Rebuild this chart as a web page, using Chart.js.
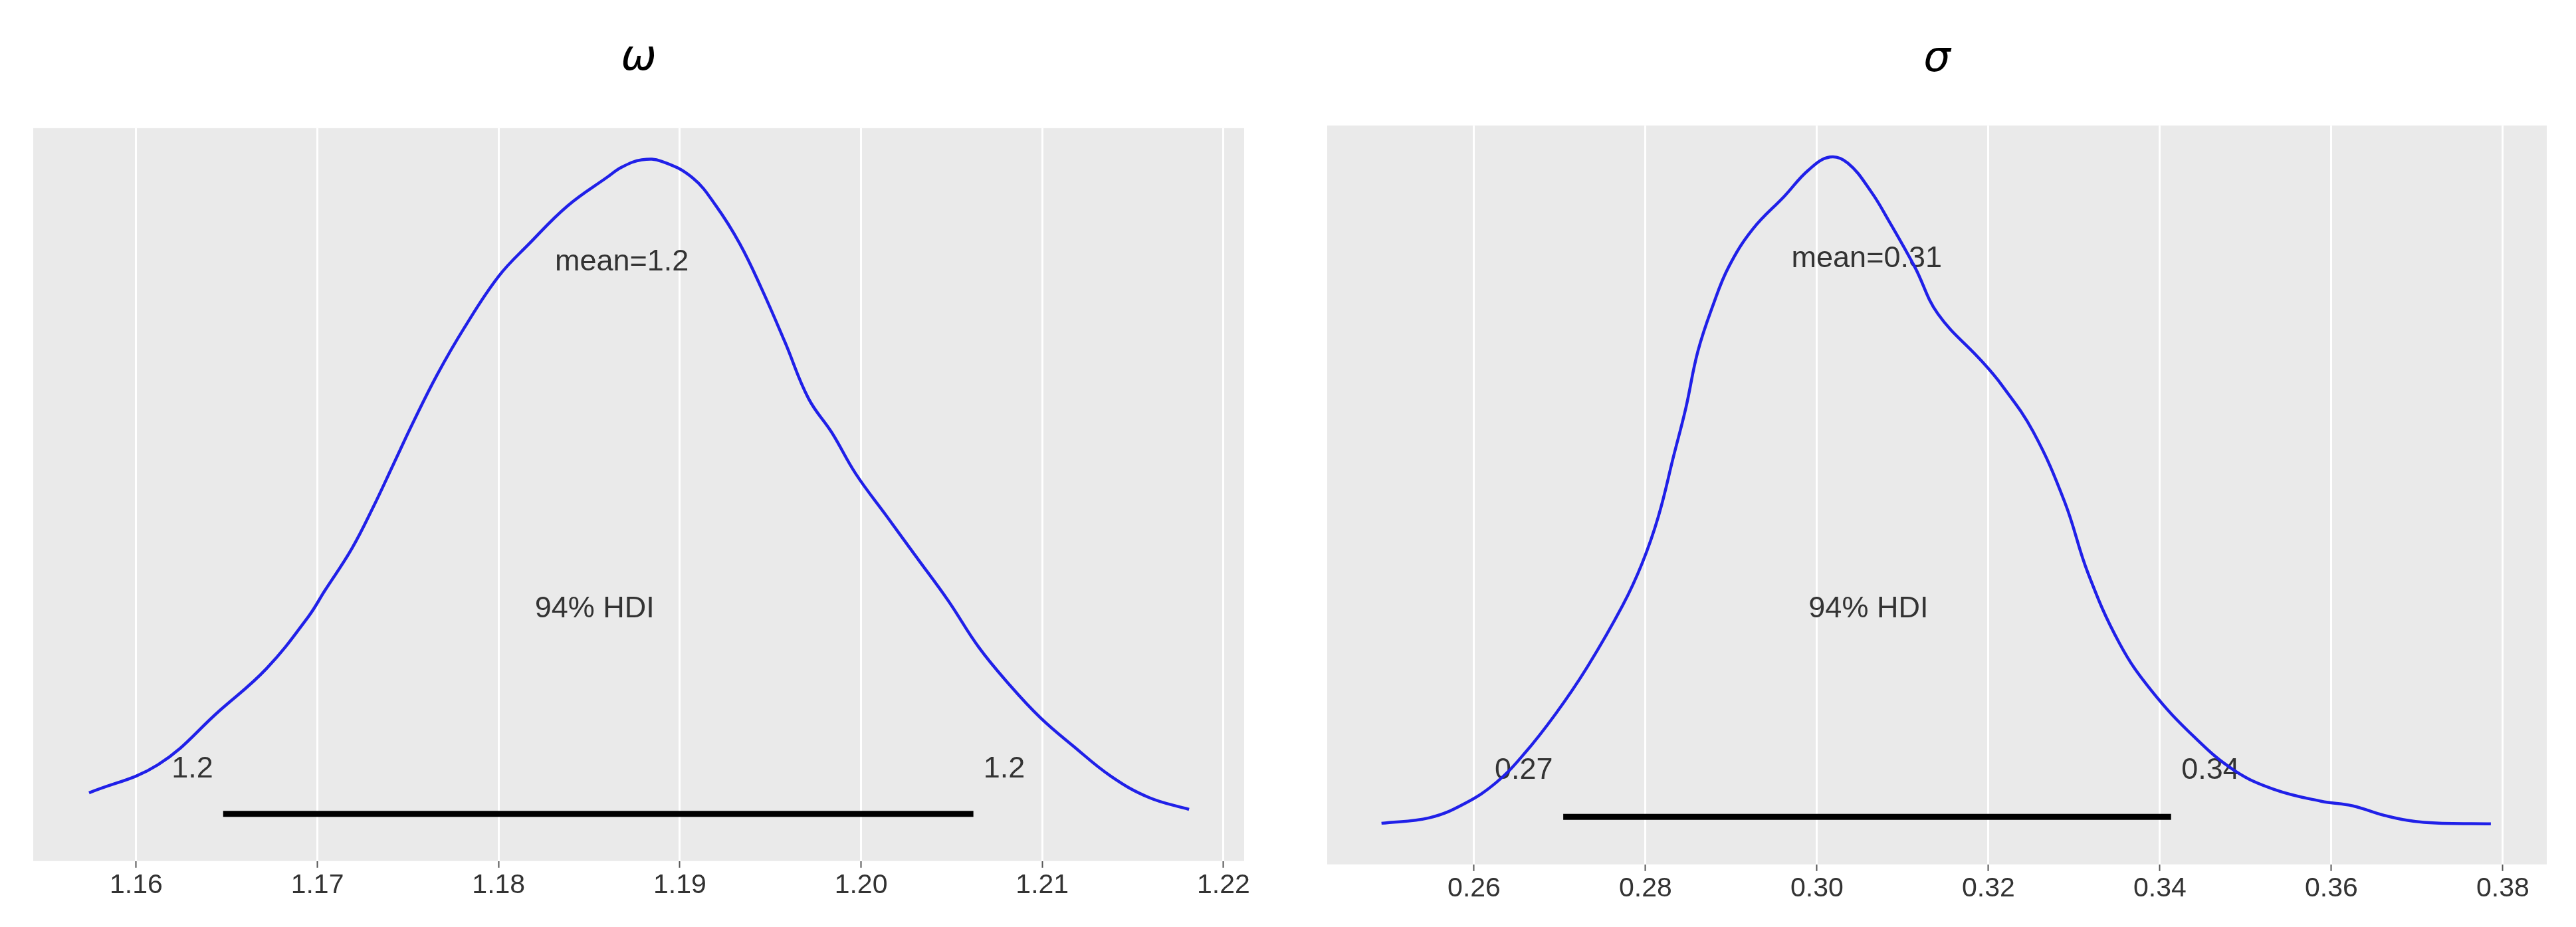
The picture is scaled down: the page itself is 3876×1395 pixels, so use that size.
<!DOCTYPE html>
<html>
<head>
<meta charset="utf-8">
<script src="https://cdn.jsdelivr.net/npm/chart.js@4/dist/chart.umd.min.js"></script>
<style>
  html, body { margin: 0; padding: 0; background: #ffffff; }
  #wrap { position: relative; width: 3876px; height: 1395px; }
  canvas { position: absolute; top: 0; }
</style>
</head>
<body>
<div id="wrap">
  <canvas id="omegaChart" width="1938" height="1395" style="left:0"></canvas>
  <canvas id="sigmaChart" width="1938" height="1395" style="left:1938px"></canvas>
</div>
<script>
// omega posterior (KDE)
const omegaX = [1.1574, 1.1612, 1.1646, 1.1672, 1.1695, 1.1704, 1.1719, 1.1731, 1.1742, 1.1753,
  1.1766, 1.1781, 1.1800, 1.1817, 1.1838, 1.1860, 1.1868, 1.1879, 1.1890, 1.1907, 1.1920,
  1.1933, 1.1945, 1.1958, 1.1971, 1.1984, 1.1997, 1.2014, 1.2031, 1.2048, 1.2065, 1.2082,
  1.2099, 1.2117, 1.2138, 1.2159, 1.2181];
const omegaDensity = [1.36, 2.91, 5.89, 8.22, 11.07, 12.49, 14.82, 17.15, 19.48, 21.81,
  24.39, 26.98, 29.83, 31.64, 33.71, 35.30, 35.85, 36.25, 36.17, 35.26, 33.71,
  31.64, 29.18, 26.21, 23.10, 21.20, 18.96, 16.63, 14.30, 11.97, 9.38, 7.31,
  5.50, 3.95, 2.27, 1.10, 0.45];
const omegaTicks = [1.16, 1.17, 1.18, 1.19, 1.20, 1.21, 1.22];
const omegaHdi = [1.1648, 1.2062];

// sigma posterior
const sigmaX = [0.2492, 0.2548, 0.2589, 0.2626, 0.2658, 0.2695, 0.2732, 0.2773, 0.2796, 0.2815,
  0.2833, 0.2847, 0.2861, 0.2879, 0.2897, 0.2925, 0.2962, 0.2990, 0.3015, 0.3036, 0.3063,
  0.3083, 0.3114, 0.3141, 0.3192, 0.3215, 0.3252, 0.3289, 0.3316, 0.3353, 0.3390, 0.3441,
  0.3487, 0.3533, 0.3588, 0.3625, 0.3662, 0.3708, 0.3786];
const sigmaDensity = [0.22, 0.41, 0.90, 1.63, 2.60, 3.99, 5.61, 7.72, 9.19, 10.81,
  12.92, 14.55, 16.50, 18.12, 19.42, 20.72, 21.86, 22.76, 23.21, 23.00, 22.02,
  21.05, 19.42, 17.80, 16.17, 15.36, 13.74, 11.30, 8.86, 6.42, 4.80, 3.17,
  2.04, 1.39, 0.98, 0.82, 0.49, 0.25, 0.20];
const sigmaTicks = [0.26, 0.28, 0.30, 0.32, 0.34, 0.36, 0.38];
const sigmaHdi = [0.2704, 0.3413];

// grey panel + text notes drawn under the curve
const panelPlugin = {
  id: 'panel',
  beforeDraw(chart) {
    const { ctx, chartArea: a } = chart;
    ctx.save();
    ctx.fillStyle = '#eaeaea';
    ctx.fillRect(a.left, a.top, a.width, a.height);
    ctx.restore();
  },
  beforeDatasetsDraw(chart, args, opts) {
    const { ctx, scales } = chart;
    ctx.save();
    ctx.font = '45px "Liberation Sans"';
    ctx.fillStyle = '#333333';
    ctx.textAlign = 'center';
    ctx.textBaseline = 'middle';
    (opts.notes || []).forEach(n => {
      ctx.fillText(n.text, scales.x.getPixelForValue(n.x), scales.y.getPixelForValue(n.y));
    });
    ctx.restore();
  }
};

function makePosterior(id, title, xs, ys, ticks, hdi, cfg) {
  const ctx = document.getElementById(id).getContext('2d');
  return new Chart(ctx, {
    type: 'line',
    data: {
      datasets: [{
        data: xs.map((x, i) => ({ x: x, y: ys[i] })),
        borderColor: '#2020e8',
        borderWidth: 4.5,
        pointRadius: 0,
        tension: 0.4,
        fill: false
      }, {
        data: hdi.map(x => ({ x: x, y: cfg.hdiY })),
        borderColor: '#000000',
        borderWidth: 9,
        borderCapStyle: 'butt',
        pointRadius: 0
      }]
    },
    options: {
      responsive: false,
      animation: false,
      layout: { padding: cfg.padding },
      scales: {
        x: {
          type: 'linear',
          min: cfg.xMin,
          max: cfg.xMax,
          afterBuildTicks: axis => { axis.ticks = ticks.map(v => ({ value: v })); },
          border: { display: false },
          grid: { color: '#ffffff', lineWidth: 3, tickColor: '#555555', tickWidth: 2, tickLength: 10 },
          ticks: {
            padding: 2,
            color: '#333333',
            font: { family: 'Liberation Sans', size: 41 },
            maxRotation: 0,
            callback: v => v.toFixed(2)
          }
        },
        y: { display: false, min: cfg.yMin, max: cfg.yMax }
      },
      plugins: {
        legend: { display: false },
        tooltip: { enabled: false },
        title: {
          display: true,
          text: title,
          color: '#000000',
          font: { family: 'DejaVu Sans', size: 64, style: 'italic', weight: 'normal' },
          padding: cfg.titlePadding
        },
        panel: { notes: cfg.notes }
      }
    },
    plugins: [panelPlugin]
  });
}

makePosterior('omegaChart', 'ω', omegaX, omegaDensity, omegaTicks, omegaHdi, {
  xMin: 1.15432, xMax: 1.22114, yMin: -2.4, yMax: 38,
  hdiY: 0.2,
  padding: { left: 50, right: 66, top: 0, bottom: 36 },
  titlePadding: { top: 50, bottom: 66 },
  notes: [
    { text: 'mean=1.2', x: 1.1868, y: 30.6 },
    { text: '94% HDI', x: 1.1853, y: 11.5 },
    { text: '1.2', x: 1.1631, y: 2.65 },
    { text: '1.2', x: 1.2079, y: 2.65 }
  ]
});

makePosterior('sigmaChart', 'σ', sigmaX, sigmaDensity, sigmaTicks, sigmaHdi, {
  xMin: 0.24287, xMax: 0.38512, yMin: -1.2, yMax: 24.3,
  hdiY: 0.44,
  padding: { left: 59, right: 44, top: 0, bottom: 31 },
  titlePadding: { top: 52, bottom: 60 },
  notes: [
    { text: 'mean=0.31', x: 0.3058, y: 19.7 },
    { text: '94% HDI', x: 0.3060, y: 7.6 },
    { text: '0.27', x: 0.2658, y: 2.04 },
    { text: '0.34', x: 0.3459, y: 2.04 }
  ]
});
</script>
</body>
</html>
